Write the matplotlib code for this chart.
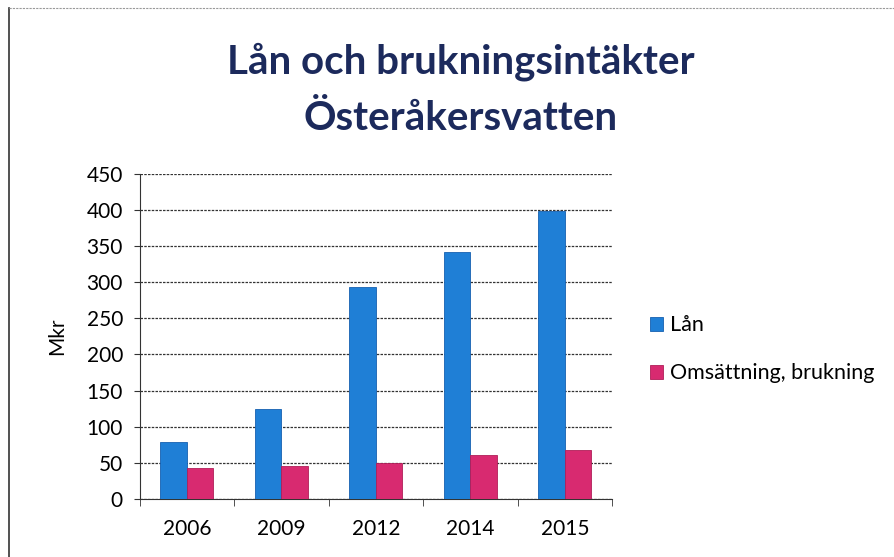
import matplotlib.pyplot as plt
import numpy as np

years = ['2006', '2009', '2012', '2014', '2015']
lan = [79, 125, 293, 342, 399]
omsattning = [43, 46, 50, 61, 68]
series_names = ['Lån', 'Omsättning, brukning']

plt.rcParams['font.family'] = ['Lato', 'DejaVu Sans']

fig = plt.figure(figsize=(8.95, 5.57), dpi=100)
ax = fig.add_axes([0.156, 0.104, 0.528, 0.584])

x = np.arange(len(years))
w = 0.28
ax.bar(x - w / 2, lan, w, color='#1f7fd6', edgecolor='#1660b0', linewidth=0.6,
       label=series_names[0], zorder=3)
ax.bar(x + w / 2, omsattning, w, color='#d82a70', edgecolor='#b01e58', linewidth=0.6,
       label=series_names[1], zorder=3)

ax.set_ylim(0, 450)
ax.set_yticks(np.arange(0, 451, 50))
ax.set_xlim(-0.5, len(years) - 0.5)
ax.set_xticks(x)
ax.set_xticklabels(years)
ax.set_xticks(np.arange(-0.5, len(years)), minor=True)
ax.tick_params(axis='x', which='major', length=0, labelsize=15, pad=14)
ax.tick_params(axis='x', which='minor', length=5, color='#333333')
ax.tick_params(axis='y', length=4, labelsize=15, color='#333333', pad=8)
ax.yaxis.grid(True, color='#333333', linestyle=(0, (2, 1)), linewidth=0.9, zorder=0)

for s in ['top', 'right']:
    ax.spines[s].set_visible(False)
ax.spines['left'].set_color('#333333')
ax.spines['bottom'].set_color('#333333')

ax.set_ylabel('Mkr', fontsize=15, labelpad=14)

fig.text(0.515, 0.889, 'Lån och brukningsintäkter', ha='center', va='center',
         fontsize=29, fontweight='bold', color='#1c2a5c')
fig.text(0.515, 0.788, 'Österåkersvatten', ha='center', va='center',
         fontsize=29, fontweight='bold', color='#1c2a5c')

ax.legend(loc='center left', bbox_to_anchor=(1.04, 0.46), frameon=False,
          fontsize=15.5, handlelength=0.6, handleheight=0.6, handletextpad=0.3,
          labelspacing=1.3)

# slide frame
fig.add_artist(plt.Line2D([0.01, 0.01], [0.0, 0.985], color='#333333', linewidth=1.2))
fig.add_artist(plt.Line2D([0.01, 1.0], [0.985, 0.985], color='#999999', linewidth=0.8,
                          linestyle=(0, (2, 1))))

fig.savefig('out.png', dpi=100)
